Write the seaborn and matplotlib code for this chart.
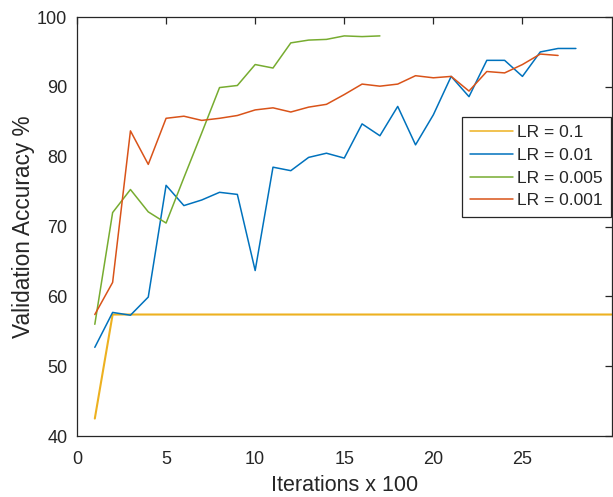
import numpy as np
import pandas as pd
import matplotlib
matplotlib.use("Agg")
import matplotlib.pyplot as plt
import seaborn as sns

# Validation accuracy (%) logged every 100 iterations for each learning rate
iters_lr_01 = list(range(1, 31))
acc_lr_01 = [42.5] + [57.4] * 29

iters_lr_001 = list(range(1, 29))
acc_lr_001 = [52.7, 57.7, 57.3, 59.9, 75.9, 73.0, 73.8, 74.9, 74.6, 63.7,
              78.5, 78.0, 79.9, 80.5, 79.8, 84.7, 83.0, 87.2, 81.7, 86.0,
              91.5, 88.6, 93.8, 93.8, 91.5, 95.0, 95.5, 95.5]

iters_lr_0005 = list(range(1, 18))
acc_lr_0005 = [56.0, 72.0, 75.3, 72.1, 70.5, 77.0, 83.4, 89.9, 90.2, 93.2,
               92.7, 96.3, 96.7, 96.8, 97.3, 97.2, 97.3]

iters_lr_0001 = list(range(1, 28))
acc_lr_0001 = [57.4, 62.0, 83.7, 78.9, 85.5, 85.8, 85.2, 85.5, 85.9, 86.7,
               87.0, 86.4, 87.1, 87.5, 88.9, 90.4, 90.1, 90.4, 91.6, 91.3,
               91.5, 89.4, 92.2, 92.0, 93.2, 94.7, 94.5]

labels = ["LR = 0.1", "LR = 0.01", "LR = 0.005", "LR = 0.001"]
colors = ["#EDB120", "#0072BD", "#77AC30", "#D95319"]

frames = []
for lab, xs, ys in zip(labels,
                       [iters_lr_01, iters_lr_001, iters_lr_0005, iters_lr_0001],
                       [acc_lr_01, acc_lr_001, acc_lr_0005, acc_lr_0001]):
    frames.append(pd.DataFrame({"iter": xs, "acc": ys, "lr": lab}))
df = pd.concat(frames, ignore_index=True)

sns.set_theme(style="white")
plt.rcParams["font.family"] = ["Liberation Sans", "DejaVu Sans"]
plt.rcParams["xtick.direction"] = "in"
plt.rcParams["ytick.direction"] = "in"

fig = plt.figure(figsize=(6.13, 4.97), dpi=100)
ax = fig.add_axes([0.1256, 0.1227, 0.872, 0.843])

sns.lineplot(data=df, x="iter", y="acc", hue="lr", hue_order=labels,
             palette=dict(zip(labels, colors)), linewidth=1.1,
             estimator=None, sort=False, ax=ax)
# the flat 0.1 curve reads a touch heavier
ax.get_lines()[0].set_linewidth(1.5)

ax.set_xlim(0, 30)
ax.set_ylim(40, 100)
ax.set_xticks([0, 5, 10, 15, 20, 25])
ax.set_yticks([40, 50, 60, 70, 80, 90, 100])
ax.tick_params(axis="both", which="both", direction="in", length=5, width=0.9,
               colors="#262626", labelsize=13, top=True, right=True,
               labelcolor="#262626")
ax.tick_params(axis="x", pad=11)
ax.tick_params(axis="y", pad=7)
for sp in ax.spines.values():
    sp.set_visible(True)
    sp.set_color("#262626")
    sp.set_linewidth(0.9)

ax.set_xlabel("Iterations x 100", fontsize=15.5, color="#262626", labelpad=5)
ax.set_ylabel("Validation Accuracy %", fontsize=16.3, color="#262626", labelpad=1.5)

leg = ax.legend(loc="upper left", bbox_to_anchor=(0.7203, 0.761),
                fontsize=12.5, frameon=True, fancybox=False, handlelength=2.45,
                handletextpad=0.25, borderpad=0.47, labelspacing=0.43,
                borderaxespad=0.0)
leg.get_frame().set_edgecolor("#262626")
leg.get_frame().set_linewidth(0.9)
leg.get_frame().set_alpha(1.0)

fig.savefig("out.png", dpi=100)
